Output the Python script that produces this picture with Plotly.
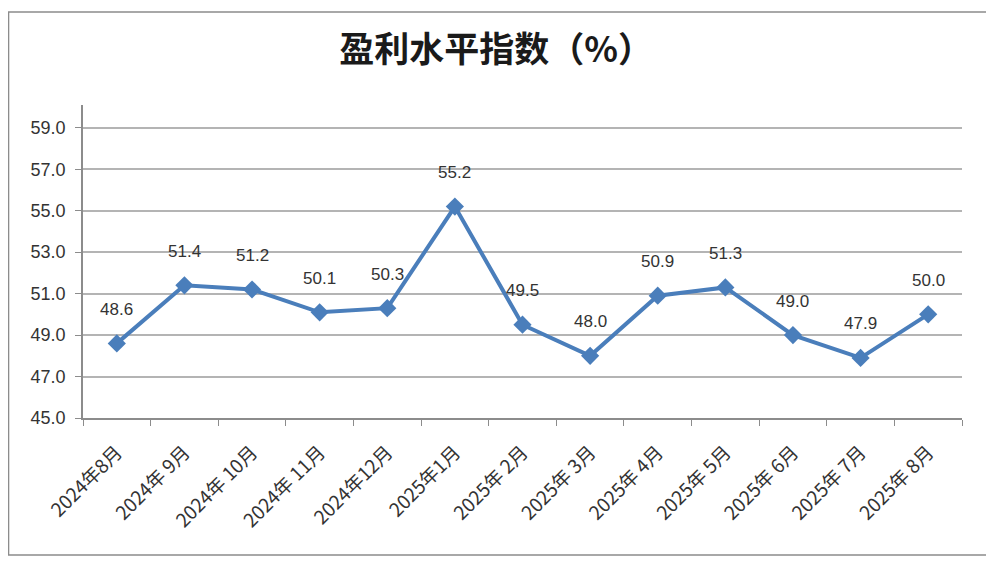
import plotly.graph_objects as go

months = ["2024年8月", "2024年 9月", "2024年 10月", "2024年 11月", "2024年12月",
          "2025年1月", "2025年 2月", "2025年 3月", "2025年 4月", "2025年 5月",
          "2025年 6月", "2025年 7月", "2025年 8月"]
values = [48.6, 51.4, 51.2, 50.1, 50.3, 55.2, 49.5, 48.0, 50.9, 51.3, 49.0, 47.9, 50.0]
y_ticks = [45, 47, 49, 51, 53, 55, 57, 59]
y_tick_text = [f"{v:.1f}" for v in y_ticks]

line_color = "#4a7ebb"
text_color = "#333333"

fig = go.Figure()
fig.add_trace(go.Scatter(
    x=months, y=values, mode="lines+markers",
    line=dict(color=line_color, width=4),
    marker=dict(symbol="diamond", size=14, color=line_color),
    hoverinfo="x+y", showlegend=False,
))

for m, v in zip(months, values):
    fig.add_annotation(x=m, y=v, text=f"{v:.1f}", showarrow=False, yshift=34,
                       font=dict(size=17, color=text_color,
                                 family="Liberation Sans, Arial, sans-serif"))

fig.add_shape(type="rect", xref="paper", yref="paper",
              x0=-0.0847, x1=1.0284, y0=-0.4377, y1=1.297,
              line=dict(color="#8c8c8c", width=1.5), fillcolor="rgba(0,0,0,0)", layer="below")

fig.update_layout(
    width=986, height=559,
    margin=dict(l=75, r=32, t=97, b=149),
    paper_bgcolor="white", plot_bgcolor="white",
    title=dict(text="<b>盈利水平指数（%）</b>", x=0.495, xanchor="center", y=0.925, yanchor="middle",
               font=dict(size=35, color="#1a1a1a", family="Noto Sans CJK SC")),
    xaxis=dict(
        type="category", range=[-0.5, 12.5], showgrid=False,
        showline=True, linecolor="#8c8c8c", linewidth=1.5,
        ticks="outside", tickson="boundaries", ticklen=6, tickcolor="#8c8c8c",
        ticklabelstandoff=14,
        tickangle=-45, tickfont=dict(size=19, color=text_color, family="Noto Sans CJK SC"),
    ),
    yaxis=dict(
        range=[45, 60.1], tickvals=y_ticks, ticktext=y_tick_text,
        showgrid=True, gridcolor="#b4b4b4", gridwidth=1.5,
        showline=True, linecolor="#8c8c8c", linewidth=1.5,
        ticks="outside", ticklen=6, tickcolor="#8c8c8c", zeroline=False,
        ticklabelstandoff=6,
        tickfont=dict(size=18, color=text_color, family="Liberation Sans, Arial, sans-serif"),
    ),
)

fig.write_html("out.html")
